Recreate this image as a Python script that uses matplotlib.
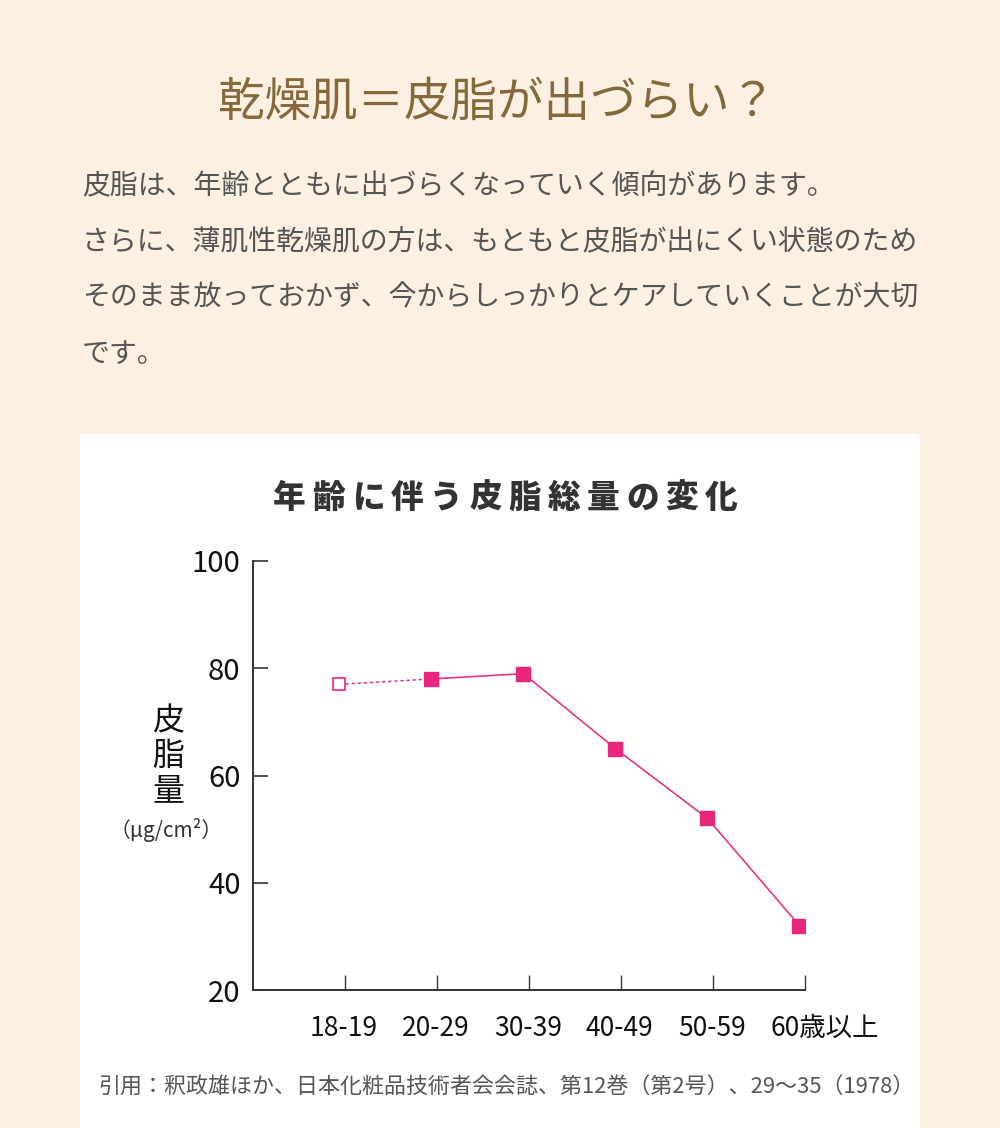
import matplotlib
matplotlib.use('Agg')
import matplotlib.pyplot as plt
import matplotlib.patches as patches
from matplotlib.transforms import ScaledTranslation

plt.rcParams['font.family'] = ['Noto Sans CJK JP', 'DejaVu Sans']

# data
edades = ['18-19', '20-29', '30-39', '40-49', '50-59', '60歳以上']
sebo = [77, 78, 79, 65, 52, 32]
yticks = [20, 40, 60, 80, 100]

titulo = '乾燥肌＝皮脂が出づらい？'
texto = ['皮脂は、年齢とともに出づらくなっていく傾向があります。',
         'さらに、薄肌性乾燥肌の方は、もともと皮脂が出にくい状態のため',
         'そのまま放っておかず、今からしっかりとケアしていくことが大切',
         'です。']
titulo_graf = '年齢に伴う皮脂総量の変化'
cita = '引用：釈政雄ほか、日本化粧品技術者会会誌、第12巻（第2号）、29〜35（1978）'

rosa = '#e8267c'
fondo = '#fbf0e1'
gris = '#333333'

W, H = 1000, 1128
fig = plt.figure(figsize=(W / 100, H / 100), dpi=100)
fig.patch.set_facecolor(fondo)

def fy(y):
    return 1 - y / H

# white panel
fig.patches.append(patches.Rectangle((80 / W, 0), 840 / W, fy(434), transform=fig.transFigure,
                                     facecolor='white', edgecolor='none', zorder=-5))

fig.text(0.497, fy(103), titulo, ha='center', va='center', fontsize=33.5, color='#86693a')
for i, linea in enumerate(texto):
    fig.text(82 / W, fy(186 + 56 * i), linea, ha='left', va='center', fontsize=20.1, color='#555555')

# chart title with letter spacing
paso = 39.2
for i, c in enumerate(titulo_graf):
    fig.text((270 + paso / 2 + paso * i) / W, fy(498), c, ha='center', va='center',
             fontsize=23.5, fontweight='heavy', color=gris)

ax = fig.add_axes([253 / W, fy(990), (805 - 253) / W, (990 - 561) / H])
ax.set_facecolor('none')
pos = [i + 1 for i in range(len(edades))]
xm = [p - 0.06 for p in pos]

ax.plot(xm[:2], sebo[:2], color=rosa, lw=1.1, ls=(0, (2, 2)))
ax.plot(xm[1:], sebo[1:], color=rosa, lw=1.1, marker='s', ms=9.5,
        markerfacecolor=rosa, markeredgecolor=rosa)
ax.plot(xm[0], sebo[0], marker='s', ms=8.5, markerfacecolor='white',
        markeredgecolor=rosa, markeredgewidth=1.2)

ax.set_xlim(0, 6)
ax.set_ylim(20, 100)
for s in ['top', 'right']:
    ax.spines[s].set_visible(False)
for s in ['left', 'bottom']:
    ax.spines[s].set_color(gris)
    ax.spines[s].set_linewidth(1.4)

ax.set_yticks(yticks)
ax.set_yticklabels([str(v) for v in yticks])
ax.tick_params(axis='y', direction='in', length=11, width=1.2, color=gris,
               labelsize=21, pad=9, labelcolor='#111111')
ax.set_xticks(pos)
ax.set_xticklabels(edades)
ax.tick_params(axis='x', direction='in', length=11, width=1.0, color=gris,
               labelsize=19, pad=18, labelcolor='#111111')
for lab in ax.get_xticklabels():
    lab.set_horizontalalignment('left')
    lab.set_transform(lab.get_transform() + ScaledTranslation(-0.35, 0, fig.dpi_scale_trans))

# y label
for i, c in enumerate('皮脂量'):
    fig.text(168 / W, fy(721 + 35 * i), c, ha='center', va='center', fontsize=23, color='#111111')
fig.text(166 / W, fy(830), '（μg/cm²）', ha='center', va='center', fontsize=15, color='#333333')

fig.text(507 / W, fy(1088), cita, ha='center', va='center', fontsize=15.8, color='#555555')

fig.savefig('out.png', dpi=100, facecolor=fondo)
